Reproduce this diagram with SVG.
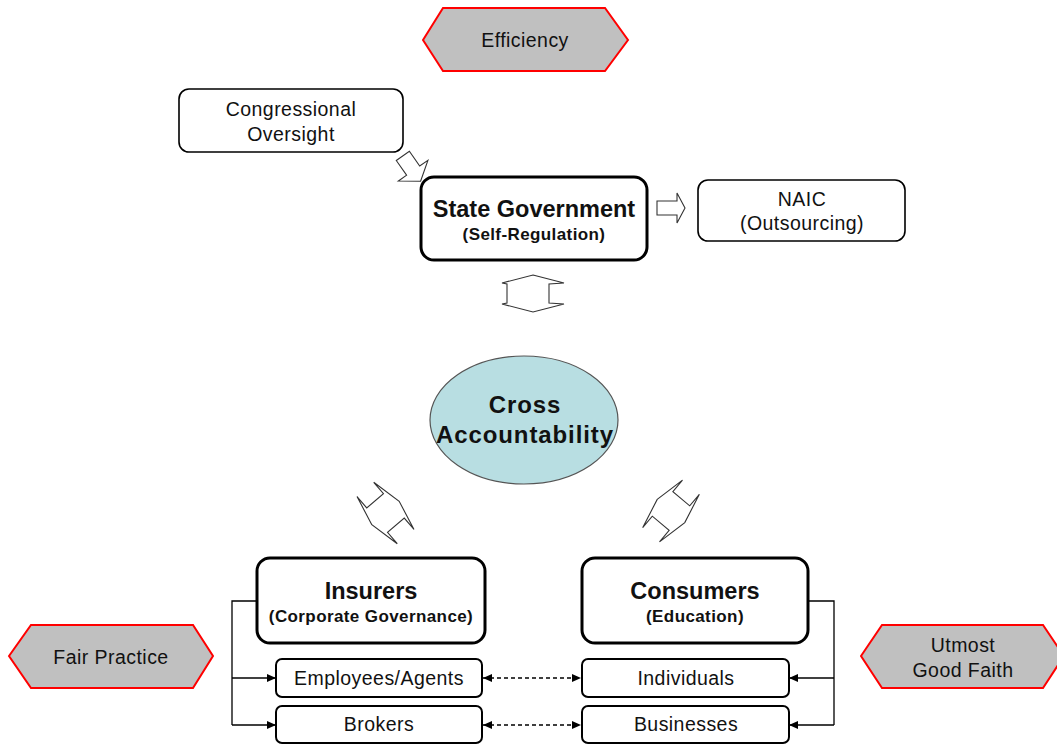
<svg xmlns="http://www.w3.org/2000/svg" width="1057" height="744" viewBox="0 0 1057 744">
  <style>
    text { font-family: "Liberation Sans", Arial, sans-serif; fill: #111; text-anchor: middle; }
    .t { font-size: 19.5px; letter-spacing: 0.45px; }
    .big { font-size: 23.5px; font-weight: bold; }
    .sub { font-size: 17px; font-weight: bold; letter-spacing: 0.4px; }
    .core { font-size: 24px; font-weight: bold; letter-spacing: 0.9px; }
    .hex { fill: #c0c0c0; stroke: #ff0000; stroke-width: 2; stroke-linejoin: miter; }
    .box { fill: #fff; stroke: #000; stroke-width: 1.6; }
    .mainbox { fill: #fff; stroke: #000; stroke-width: 3; }
    .smallbox { fill: #fff; stroke: #000; stroke-width: 2; }
    .blk { fill: #fff; stroke: #333; stroke-width: 1.1; stroke-linejoin: miter; }
    .wire { fill: none; stroke: #000; stroke-width: 1.3; }
    .dash { fill: none; stroke: #000; stroke-width: 1.3; stroke-dasharray: 4 3; }
  </style>
  <defs>
    <marker id="tip" markerUnits="userSpaceOnUse" markerWidth="9" markerHeight="8" refX="9" refY="4" orient="auto-start-reverse">
      <path d="M0,0 L9,4 L0,8 z" fill="#000"/>
    </marker>
    <!-- wide flat-headed double arrow, axis along x -->
    <polygon id="dbl" points="-18,0 -11,-31 -11,-16 11,-16 11,-31 18,0 11,31 11,16 -11,16 -11,31"/>
  </defs>

  <!-- value tags -->
  <g id="efficiency">
    <polygon class="hex" points="423,40 443,8 605,8 628,40 605,71 443,71"/>
    <text class="t" x="525" y="47">Efficiency</text>
  </g>
  <g id="fair-practice">
    <polygon class="hex" points="9,656 31,625 193,625 213,656 193,688 31,688"/>
    <text class="t" x="111" y="664">Fair Practice</text>
  </g>
  <g id="good-faith">
    <polygon class="hex" points="861,656 882,625 1043,625 1064,656 1043,688 882,688"/>
    <text class="t" x="963" y="652">Utmost</text>
    <text class="t" x="963" y="677">Good Faith</text>
  </g>

  <!-- government tier -->
  <g id="congress">
    <rect class="box" x="179" y="89" width="224" height="63" rx="10"/>
    <text class="t" x="291" y="116">Congressional</text>
    <text class="t" x="291" y="141">Oversight</text>
  </g>
  <g id="state">
    <rect class="mainbox" x="421" y="177" width="226" height="83" rx="13"/>
    <text class="big" x="534" y="217">State Government</text>
    <text class="sub" x="534" y="240">(Self-Regulation)</text>
  </g>
  <g id="naic">
    <rect class="box" x="698" y="180" width="207" height="61" rx="10"/>
    <text class="t" x="802" y="206">NAIC</text>
    <text class="t" x="802" y="230">(Outsourcing)</text>
  </g>

  <!-- hub -->
  <g id="cross">
    <ellipse cx="524" cy="420" rx="94" ry="64" fill="#b8dee2" stroke="#555" stroke-width="1.2"/>
    <text class="core" x="525" y="413">Cross</text>
    <text class="core" x="525" y="443">Accountability</text>
  </g>

  <!-- market tier -->
  <g id="insurers">
    <rect class="mainbox" x="257" y="558" width="228" height="85" rx="13"/>
    <text class="big" x="371" y="599">Insurers</text>
    <text class="sub" x="371" y="622">(Corporate Governance)</text>
  </g>
  <g id="consumers">
    <rect class="mainbox" x="582" y="558" width="226" height="85" rx="13"/>
    <text class="big" x="695" y="599">Consumers</text>
    <text class="sub" x="695" y="622">(Education)</text>
  </g>
  <g id="employees">
    <rect class="smallbox" x="276" y="659" width="206" height="38" rx="6"/>
    <text class="t" x="379" y="685">Employees/Agents</text>
  </g>
  <g id="brokers">
    <rect class="smallbox" x="276" y="706" width="206" height="37" rx="6"/>
    <text class="t" x="379" y="731">Brokers</text>
  </g>
  <g id="individuals">
    <rect class="smallbox" x="582" y="659" width="207" height="38" rx="6"/>
    <text class="t" x="686" y="685">Individuals</text>
  </g>
  <g id="businesses">
    <rect class="smallbox" x="582" y="706" width="207" height="37" rx="6"/>
    <text class="t" x="686" y="731">Businesses</text>
  </g>

  <!-- connectors -->
  <g id="connectors">
    <!-- block arrows -->
    <polygon class="blk" transform="translate(412,169) rotate(-35)" points="-8,-16 8,-16 8,2 18,2 0,15 -18,2 -8,2"/>
    <polygon class="blk" points="657,201 677,201 677,193 685,208 677,223 677,215 657,215"/>
    <polygon class="blk" points="533,275 564,283 549,284 549,303 564,304 533,312 502,304 507,303 507,284 502,283"/>
    <use href="#dbl" class="blk" transform="translate(385.5,513) rotate(-40.5)"/>
    <use href="#dbl" class="blk" transform="translate(671,511) rotate(40)"/>

    <!-- insurer side bracket -->
    <path class="wire" d="M257,601 H232 V725"/>
    <path class="wire" d="M232,678 H276" marker-end="url(#tip)"/>
    <path class="wire" d="M232,725 H276" marker-end="url(#tip)"/>

    <!-- consumer side bracket -->
    <path class="wire" d="M808,601 H834 V725"/>
    <path class="wire" d="M834,678 H789" marker-end="url(#tip)"/>
    <path class="wire" d="M834,725 H789" marker-end="url(#tip)"/>

    <!-- peer links -->
    <path class="dash" d="M483,678 H581" marker-start="url(#tip)" marker-end="url(#tip)"/>
    <path class="dash" d="M483,725 H581" marker-start="url(#tip)" marker-end="url(#tip)"/>
  </g>
</svg>
